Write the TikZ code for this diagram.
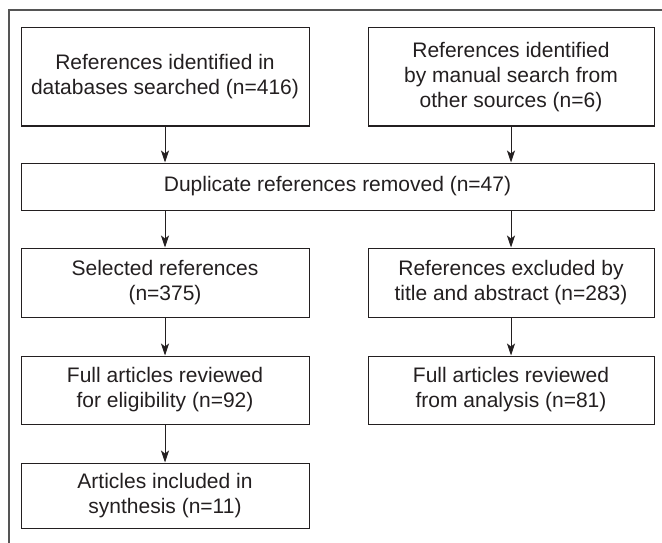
\documentclass[tikz,border=0pt]{standalone}
\usepackage{fontspec}
\setmainfont{Liberation Sans}
\usetikzlibrary{arrows.meta}
\definecolor{inkgray}{HTML}{231F20}
\definecolor{framegray}{HTML}{555555}
\tikzset{
    flowbox/.style={draw=inkgray,line width=1pt,inner sep=0pt,align=center,
        text=inkgray,font=\fontsize{21}{25}\selectfont},
    flowarrow/.style={draw=inkgray,line width=1pt,-{Stealth[length=12pt,width=8pt,inset=3pt]}}
}
\begin{document}
\begin{tikzpicture}[x=1pt,y=-1pt]
    \useasboundingbox (0,0) rectangle (662,543);
    % outer frame, only top and left edges show
    \draw[framegray,line width=1.6pt] (9,543) -- (9,10) -- (662,10);

    % first row
    \node[flowbox,minimum width=288pt,minimum height=98pt] (dbref) at (165,77)
        {References identified in\\databases searched (n=416)};
    \node[flowbox,minimum width=286pt,minimum height=98pt] (manref) at (511,77)
        {References identified\\by manual search from\\other sources (n=6)};

    % duplicates
    \node[flowbox,minimum width=633pt,minimum height=47pt] (dupl) at (337.5,186.5)
        {Duplicate references removed (n=47)};

    % screening
    \node[flowbox,minimum width=288pt,minimum height=69pt] (selref) at (165,282.5)
        {Selected references\\(n=375)};
    \node[flowbox,minimum width=286pt,minimum height=69pt] (exclref) at (511,282.5)
        {References excluded by\\title and abstract (n=283)};

    % eligibility
    \node[flowbox,minimum width=288pt,minimum height=68pt] (fullelig) at (165,390)
        {Full articles reviewed\\for eligibility (n=92)};
    \node[flowbox,minimum width=286pt,minimum height=68pt] (fullanal) at (511,390)
        {Full articles reviewed\\from analysis (n=81)};

    % included
    \node[flowbox,minimum width=288pt,minimum height=65pt] (synth) at (165,495.5)
        {Articles included in\\synthesis (n=11)};

    \draw[flowarrow] (dbref) -- (dbref.south |- dupl.north);
    \draw[flowarrow] (manref) -- (manref.south |- dupl.north);
    \draw[flowarrow] (selref.north |- dupl.south) -- (selref);
    \draw[flowarrow] (exclref.north |- dupl.south) -- (exclref);
    \draw[flowarrow] (selref) -- (fullelig);
    \draw[flowarrow] (exclref) -- (fullanal);
    \draw[flowarrow] (fullelig) -- (synth);
\end{tikzpicture}
\end{document}
